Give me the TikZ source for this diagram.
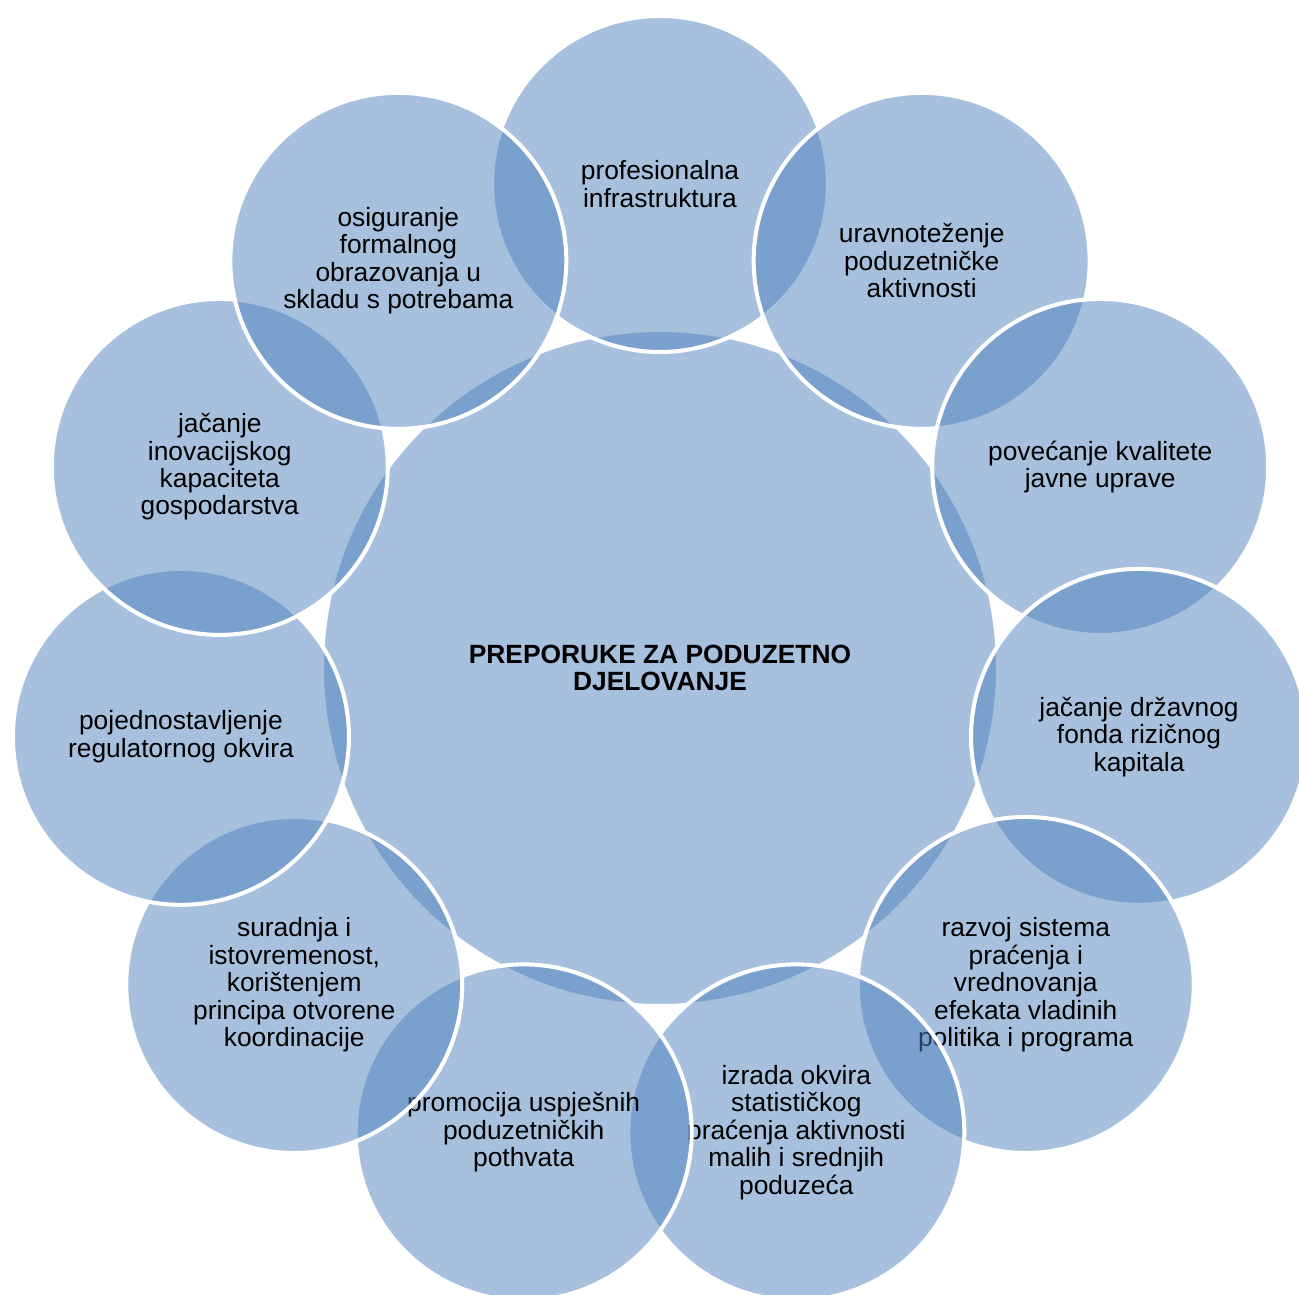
\documentclass[tikz,border=0pt]{standalone}
\usepackage{fontspec}
\setmainfont{Liberation Sans}
\definecolor{accent}{RGB}{79,129,189}
\tikzset{
	bubble/.style={circle, fill=accent, fill opacity=0.5, text opacity=1, draw=white, draw opacity=1,
		line width=2.3pt, minimum size=6.72cm, inner sep=0pt, align=center,
		font=\fontsize{15}{15.6}\selectfont},
	hub/.style={bubble, minimum size=13.52cm, font=\fontsize{15}{15.6}\selectfont\bfseries}
}
\begin{document}
\begin{tikzpicture}
		\useasboundingbox (-13.2,-12.54) rectangle (12.78,13.36);

		\node[hub] (hub) at (0,0) {PREPORUKE ZA PODUZETNO\\DJELOVANJE};

		\node[bubble] (prof) at (90:9.68) {profesionalna\\infrastruktura};
		\node[bubble] (uravn) at (57.27:9.68) {uravnoteženje\\poduzetničke\\aktivnosti};
		\node[bubble] (uprava) at (24.55:9.68) {povećanje kvalitete\\javne uprave};
		\node[bubble] (fond) at (-8.18:9.68) {jačanje državnog\\fonda rizičnog\\kapitala};
		\node[bubble] (razvoj) at (-40.91:9.68) {razvoj sistema\\praćenja i\\vrednovanja\\efekata vladinih\\politika i programa};
		\node[bubble] (izrada) at (-73.64:9.68) {izrada okvira\\statističkog\\praćenja aktivnosti\\malih i srednjih\\poduzeća};
		\node[bubble] (promo) at (-106.36:9.68) {promocija uspješnih\\poduzetničkih\\pothvata};
		\node[bubble] (surad) at (-139.09:9.68) {suradnja i\\istovremenost,\\korištenjem\\principa otvorene\\koordinacije};
		\node[bubble] (regul) at (-171.82:9.68) {pojednostavljenje\\regulatornog okvira};
		\node[bubble] (inov) at (155.45:9.68) {jačanje\\inovacijskog\\kapaciteta\\gospodarstva};
		\node[bubble] (obraz) at (122.73:9.68) {osiguranje\\formalnog\\obrazovanja u\\skladu s potrebama};
	\end{tikzpicture}
\end{document}
